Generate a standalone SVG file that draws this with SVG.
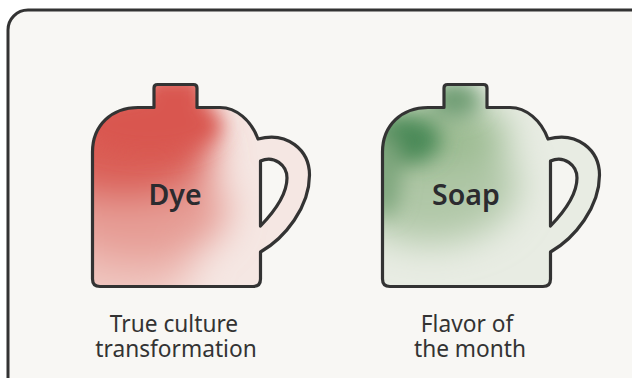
<svg xmlns="http://www.w3.org/2000/svg" width="632" height="378" viewBox="0 0 632 378">
<style>
.ink{fill:none;stroke:#333;stroke-width:3.200;stroke-linejoin:round;stroke-linecap:round}
.name{font-family:"Noto Sans","Open Sans",sans-serif;font-size:28.500px;font-weight:600;fill:#2b2b2f;text-anchor:middle}
.cap{font-family:"Noto Sans","Open Sans",sans-serif;font-size:22.700px;fill:#333;text-anchor:middle}
</style>
<defs>
<path id="mug" d="M154 107.500V88Q154 84.500 157.500 84.500H193.500Q197 84.500 197 88V107.500H220C236 107.500 251 120 258 139C287 131 309.500 150 309.500 175C309.500 207 285 238 260.500 252V279Q260.500 286.500 253 286.500H100Q92.500 286.500 92.500 279V152C92.500 125 112 107.500 138 107.500Z"/>
<path id="hole" d="M260.500 161C274 155 287 165 287 178C287 195 273 213 260.500 226Z"/>
<clipPath id="clip"><use href="#mug"/></clipPath>
<filter id="b1" x="-60%" y="-60%" width="220%" height="220%"><feGaussianBlur stdDeviation="18"/></filter>
<filter id="b2" x="-60%" y="-60%" width="220%" height="220%"><feGaussianBlur stdDeviation="10"/></filter>
</defs>
<rect width="632" height="378" fill="#fff"/>
<rect x="8" y="10" width="700" height="450" rx="20" fill="#f8f7f4" stroke="#333" stroke-width="3"/>
<g id="dye">
<g clip-path="url(#clip)">
<rect x="80" y="80" width="240" height="215" fill="#f5e7e3"/>
<g filter="url(#b1)">
<ellipse cx="120" cy="270" rx="75" ry="40" fill="#efc2bc"/>
<ellipse cx="140" cy="210" rx="88" ry="52" fill="#e69d95"/>
<ellipse cx="125" cy="150" rx="90" ry="50" fill="#da5e57"/>
</g>
<g filter="url(#b2)">
<ellipse cx="150" cy="125" rx="72" ry="30" fill="#d9564f"/>
<rect x="145" y="75" width="60" height="40" fill="#d9564f"/>
</g>
</g>
<use href="#hole" fill="#f8f7f4"/>
<use href="#mug" class="ink"/>
<use href="#hole" class="ink"/>
<text class="name" x="175" y="205">Dye</text>
</g>
<g id="soap" transform="translate(290 0)">
<g clip-path="url(#clip)">
<rect x="80" y="80" width="240" height="215" fill="#e8ece3"/>
<g filter="url(#b1)">
<ellipse cx="140" cy="185" rx="88" ry="58" fill="#b0c7a7"/>
<ellipse cx="140" cy="135" rx="78" ry="36" fill="#9dbc93"/>
</g>
<g filter="url(#b2)">
<ellipse cx="115" cy="140" rx="36" ry="24" fill="#4c8a58"/>
<ellipse cx="95" cy="175" rx="16" ry="42" fill="#7ea67d"/>
<ellipse cx="165" cy="100" rx="26" ry="18" fill="#6f9d73"/>
</g>
</g>
<use href="#hole" fill="#f5f5f1"/>
<use href="#mug" class="ink"/>
<use href="#hole" class="ink"/>
<text class="name" x="176" y="205">Soap</text>
</g>
<g id="captions">
<text class="cap" x="174" y="332">True culture</text>
<text class="cap" x="176" y="357">transformation</text>
<text class="cap" x="467" y="332">Flavor of</text>
<text class="cap" x="470" y="357">the month</text>
</g>
<g id="connectors"/>
</svg>
